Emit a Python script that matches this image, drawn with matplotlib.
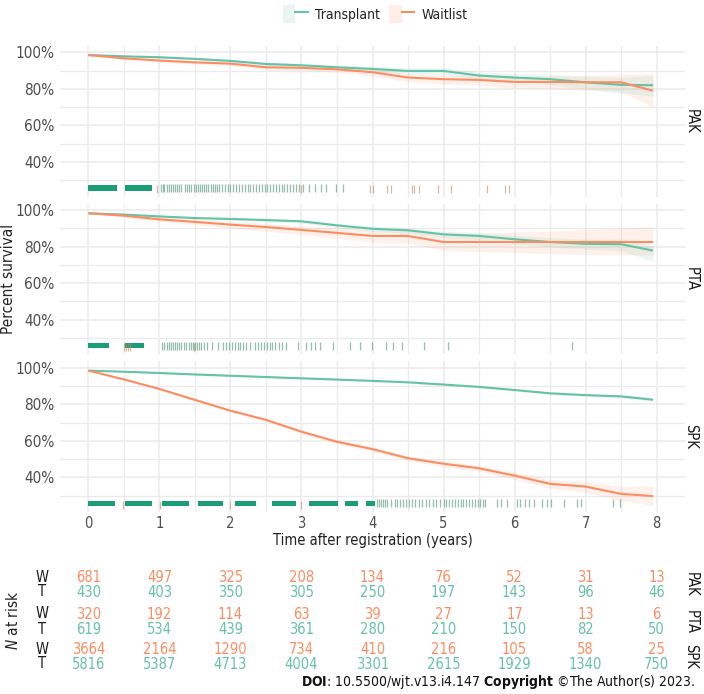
import matplotlib
matplotlib.use("Agg")
import matplotlib.pyplot as plt
from matplotlib.lines import Line2D
from matplotlib.patches import Patch
from matplotlib.legend_handler import HandlerTuple
import numpy as np

plt.rcParams['font.family'] = ['DejaVu Sans']
plt.rcParams['font.stretch'] = 'condensed'
plt.rcParams['mathtext.fontset'] = 'custom'
plt.rcParams['mathtext.rm'] = 'DejaVu Sans:stretch=condensed'
plt.rcParams['mathtext.it'] = 'DejaVu Sans:italic:stretch=condensed'
plt.rcParams['mathtext.bf'] = 'DejaVu Sans:bold:stretch=condensed'

# ---------------- data ----------------
groups = ["PAK", "PTA", "SPK"]
times = [0, 0.5, 1, 1.5, 2, 2.5, 3, 3.5, 4, 4.5, 5, 5.5, 6, 6.5, 7, 7.5, 7.95]

pak_transplant = [98.5, 97.8, 97.3, 96.4, 95.3, 93.6, 92.9, 91.8, 90.9, 89.8, 89.8, 87.3, 86.2, 85.3, 83.6, 82.2, 82.0]
pak_waitlist = [98.5, 96.7, 95.5, 94.5, 93.8, 91.8, 91.5, 90.7, 89.1, 86.2, 85.3, 84.9, 83.8, 83.8, 83.6, 83.6, 79.0]
pta_transplant = [98.2, 97.5, 96.5, 95.6, 95.1, 94.5, 93.8, 91.6, 89.7, 88.9, 86.7, 85.8, 84.0, 82.5, 81.5, 81.3, 77.8]
pta_waitlist = [98.2, 96.9, 94.9, 93.5, 92.0, 90.7, 89.1, 87.5, 85.8, 85.8, 82.5, 82.5, 82.5, 82.5, 82.5, 82.5, 82.5]
spk_transplant = [98.4, 97.8, 97.1, 96.3, 95.6, 94.9, 94.2, 93.5, 92.8, 92.0, 90.8, 89.5, 87.8, 86.0, 85.0, 84.3, 82.5]
spk_waitlist = [98.4, 93.6, 88.4, 82.4, 76.5, 71.5, 65.0, 59.5, 55.5, 50.5, 47.5, 45.0, 41.0, 36.5, 35.0, 31.0, 29.8]

# confidence band half widths (lower, upper)
pak_transplant_lo = [0.3, 0.5, 0.6, 0.7, 0.8, 1.0, 1.1, 1.3, 1.5, 1.7, 1.9, 2.2, 2.5, 3.0, 3.6, 4.5, 6.0]
pak_transplant_hi = [0.3, 0.5, 0.6, 0.7, 0.8, 1.0, 1.1, 1.3, 1.5, 1.6, 1.8, 2.0, 2.3, 2.7, 3.2, 4.0, 5.5]
pak_waitlist_lo = [0.3, 0.6, 0.8, 1.0, 1.1, 1.3, 1.5, 1.7, 2.0, 2.3, 2.6, 3.0, 3.4, 3.8, 4.3, 5.0, 9.0]
pak_waitlist_hi = [0.3, 0.6, 0.8, 0.9, 1.0, 1.2, 1.4, 1.6, 1.8, 2.1, 2.4, 2.7, 3.0, 3.4, 3.8, 4.4, 9.5]
pta_transplant_lo = [0.3, 0.5, 0.7, 0.8, 0.9, 1.0, 1.1, 1.3, 1.5, 1.7, 1.9, 2.1, 2.4, 2.7, 3.0, 3.5, 6.0]
pta_transplant_hi = [0.3, 0.5, 0.6, 0.7, 0.8, 0.9, 1.0, 1.2, 1.4, 1.6, 1.7, 1.9, 2.1, 2.4, 2.6, 2.9, 2.2]
pta_waitlist_lo = [0.3, 0.8, 1.2, 1.5, 1.9, 2.2, 2.6, 3.0, 3.5, 4.0, 4.6, 5.2, 5.8, 6.3, 6.8, 7.0, 7.1]
pta_waitlist_hi = [0.3, 0.8, 1.1, 1.4, 1.7, 2.0, 2.3, 2.7, 3.1, 3.6, 4.2, 4.8, 5.4, 6.0, 6.6, 7.8, 8.4]
spk_transplant_lo = [0.1, 0.2, 0.2, 0.3, 0.3, 0.3, 0.4, 0.4, 0.4, 0.5, 0.5, 0.6, 0.6, 0.7, 0.8, 0.9, 1.1]
spk_transplant_hi = [0.1, 0.2, 0.2, 0.3, 0.3, 0.3, 0.4, 0.4, 0.4, 0.5, 0.5, 0.6, 0.6, 0.7, 0.8, 0.9, 1.0]
spk_waitlist_lo = [0.1, 0.4, 0.6, 0.7, 0.8, 0.9, 1.0, 1.1, 1.2, 1.3, 1.5, 1.7, 2.0, 2.4, 3.0, 3.8, 5.0]
spk_waitlist_hi = [0.1, 0.4, 0.6, 0.7, 0.8, 0.9, 1.0, 1.1, 1.2, 1.3, 1.5, 1.7, 2.0, 2.4, 3.0, 4.0, 5.5]

# censoring rug: dense intervals and single ticks
pak_dense = [(0.0, 0.40), (0.51, 0.89)]
pak_ticks_t = [1.02, 1.05, 1.07, 1.10, 1.13, 1.16, 1.19, 1.22, 1.25, 1.28, 1.31, 1.36, 1.39, 1.42, 1.45, 1.48,
               1.51, 1.54, 1.57, 1.60, 1.63, 1.66, 1.69, 1.72, 1.75, 1.78, 1.81, 1.84, 1.88, 1.92, 1.96, 2.00,
               2.04, 2.08, 2.12, 2.16, 2.20, 2.24, 2.28, 2.32, 2.36, 2.40, 2.44, 2.48, 2.52, 2.56, 2.60, 2.64,
               2.68, 2.72, 2.76, 2.80, 2.84, 2.88, 2.92, 2.97, 3.02, 3.10, 3.19, 3.27, 3.35, 3.48, 3.58]
pak_ticks_w = [0.96, 2.99, 3.96, 4.01, 4.20, 4.26, 4.55, 4.59, 4.65, 4.92, 5.10, 5.61, 5.86, 5.92]
pta_dense = [(0.0, 0.29), (0.51, 0.78)]
pta_ticks_t = [1.04, 1.07, 1.10, 1.13, 1.16, 1.19, 1.22, 1.25, 1.28, 1.31, 1.35, 1.38, 1.41, 1.44, 1.47,
               1.50, 1.53, 1.56, 1.59, 1.63, 1.67, 1.74, 1.82, 1.90, 1.94, 1.98, 2.02, 2.06, 2.10, 2.14,
               2.18, 2.22, 2.27, 2.35, 2.39, 2.43, 2.47, 2.51, 2.55, 2.59, 2.63, 2.68, 2.73, 2.78, 2.95,
               3.07, 3.13, 3.19, 3.26, 3.45, 3.69, 3.83, 3.99, 4.19, 4.29, 4.41, 4.73, 5.07, 6.81]
pta_ticks_w = [0.50, 0.53, 0.56, 0.59, 1.48]
spk_dense = [(0.0, 0.37), (0.51, 0.89), (1.04, 1.41), (1.55, 1.90), (2.06, 2.36), (2.58, 2.92),
             (3.10, 3.51), (3.61, 3.80), (3.91, 4.03)]
spk_ticks_t = [4.06, 4.09, 4.12, 4.15, 4.18, 4.21, 4.26, 4.31, 4.35, 4.39, 4.43, 4.47, 4.51, 4.55, 4.60,
               4.65, 4.70, 4.75, 4.80, 4.85, 4.90, 4.95, 5.00, 5.04, 5.08, 5.12, 5.16, 5.20, 5.24, 5.28,
               5.32, 5.36, 5.40, 5.44, 5.48, 5.52, 5.56, 5.59, 5.75, 5.81, 5.89, 6.03, 6.08, 6.15, 6.21,
               6.27, 6.39, 6.45, 6.52, 6.70, 6.88, 6.93, 7.39, 7.49]
spk_ticks_w = [0.49, 1.01, 2.00, 2.99]

# number at risk
risk_times = [0, 1, 2, 3, 4, 5, 6, 7, 8]
pak_risk_w = [681, 497, 325, 208, 134, 76, 52, 31, 13]
pak_risk_t = [430, 403, 350, 305, 250, 197, 143, 96, 46]
pta_risk_w = [320, 192, 114, 63, 39, 27, 17, 13, 6]
pta_risk_t = [619, 534, 439, 361, 280, 210, 150, 82, 50]
spk_risk_w = [3664, 2164, 1290, 734, 410, 216, 105, 58, 25]
spk_risk_t = [5816, 5387, 4713, 4004, 3301, 2615, 1929, 1340, 750]

y_ticks = [40, 60, 80, 100]
y_tick_labels = ["40%", "60%", "80%", "100%"]
x_ticks = [0, 1, 2, 3, 4, 5, 6, 7, 8]

# ---------------- style ----------------
GREEN = "#66c2a5"
ORANGE = "#fc8d62"
RUG_GREEN = "#1b9e77"
RUG_TICK = "#5e9a82"
RUG_ORANGE = "#c08a62"
GRID = "#ebebeb"
TXT = "#4d4d4d"
FS = 10.5

W, H = 704, 694
fig = plt.figure(figsize=(W / 100, H / 100), dpi=100)

def fx(px):
    return px / W

def fy(py):
    return 1 - py / H

left_px, right_px = 60, 685
panels_px = [(45.9, 196.6), (203.6, 354.3), (361.3, 512.0)]

curves = {
    "PAK": (pak_transplant, pak_transplant_lo, pak_transplant_hi, pak_waitlist, pak_waitlist_lo, pak_waitlist_hi,
            pak_dense, pak_ticks_t, pak_ticks_w),
    "PTA": (pta_transplant, pta_transplant_lo, pta_transplant_hi, pta_waitlist, pta_waitlist_lo, pta_waitlist_hi,
            pta_dense, pta_ticks_t, pta_ticks_w),
    "SPK": (spk_transplant, spk_transplant_lo, spk_transplant_hi, spk_waitlist, spk_waitlist_lo, spk_waitlist_hi,
            spk_dense, spk_ticks_t, spk_ticks_w),
}

RUG_Y = 25.8
t = np.array(times)
for i, g in enumerate(groups):
    top, bot = panels_px[i]
    ax = fig.add_axes([fx(left_px), fy(bot), fx(right_px - left_px), (bot - top) / H])
    ax.set_xlim(-0.4, 8.4)
    ax.set_ylim(21.1, 103.5)
    for s in ax.spines.values():
        s.set_visible(False)
    ax.set_xticks(x_ticks)
    ax.set_xticks(np.arange(0.5, 8, 1.0), minor=True)
    ax.set_yticks(y_ticks)
    ax.set_yticks([30, 50, 70, 90], minor=True)
    ax.grid(True, which="major", color=GRID, lw=1.1)
    ax.grid(True, which="minor", color=GRID, lw=0.9)
    ax.set_axisbelow(True)
    ax.tick_params(which="both", length=0)
    ax.set_yticklabels(y_tick_labels, fontsize=11, color=TXT)
    if i < 2:
        ax.set_xticklabels([])
    else:
        ax.set_xticklabels([str(v) for v in x_ticks], fontsize=FS, color=TXT)
        ax.set_xlabel("Time after registration (years)", fontsize=10.5, color="#222222", labelpad=1)
    ax.tick_params(axis="y", pad=4)
    ax.tick_params(axis="x", pad=3)

    tr, trlo, trhi, wl, wllo, wlhi, dense, ticks_t, ticks_w = curves[g]
    tr = np.array(tr); wl = np.array(wl)
    ax.fill_between(t, wl - np.array(wllo), wl + np.array(wlhi), color=ORANGE, alpha=0.12, lw=0)
    ax.fill_between(t, tr - np.array(trlo), tr + np.array(trhi), color=GREEN, alpha=0.12, lw=0)
    ax.plot(t, tr, color=GREEN, lw=1.5, solid_capstyle="butt")
    ax.plot(t, wl, color=ORANGE, lw=1.5, solid_capstyle="butt")

    for (a, b) in dense:
        ax.broken_barh([(a, b - a)], (RUG_Y - 1.5, 3.0), facecolor=RUG_GREEN, edgecolor="none")
    ax.plot(ticks_t, [RUG_Y] * len(ticks_t), ls="none", marker="|", ms=6, mew=0.9,
            color=RUG_TICK, alpha=0.65)
    ax.plot(ticks_w, [RUG_Y - 0.6] * len(ticks_w), ls="none", marker="|", ms=6, mew=0.9,
            color=RUG_ORANGE, alpha=0.6)

    fig.text(fx(691), fy((top + bot) / 2), g, rotation=-90, ha="center", va="center",
             fontsize=FS, color="#1a1a1a")

fig.text(fx(9), fy((panels_px[0][0] + panels_px[2][1]) / 2), "Percent survival", rotation=90,
         ha="center", va="center", fontsize=11, color="#222222")

# legend
handles = [(Patch(facecolor=GREEN, alpha=0.15, edgecolor="none"), Line2D([], [], color=GREEN, lw=1.5)),
           (Patch(facecolor=ORANGE, alpha=0.15, edgecolor="none"), Line2D([], [], color=ORANGE, lw=1.5))]
fig.legend(handles, ["Transplant", "Waitlist"], handler_map={tuple: HandlerTuple(ndivide=None, pad=0)},
           loc="center", bbox_to_anchor=(fx(375), fy(14)), ncol=2, frameon=False, fontsize=10,
           handlelength=1.8, handleheight=1.7, handletextpad=0.5, columnspacing=0.7, labelcolor="#222222")

# risk table
rax = fig.add_axes([fx(left_px), 0, fx(right_px - left_px), fy(560)])
rax.set_xlim(-0.4, 8.4)
rax.set_ylim(H, 560)
rax.axis("off")
rows = [("PAK", pak_risk_w, pak_risk_t, 577, 592),
        ("PTA", pta_risk_w, pta_risk_t, 614, 629),
        ("SPK", spk_risk_w, spk_risk_t, 649, 664)]
for g, rw, rt, yw, yt in rows:
    for x, v in zip(risk_times, rw):
        rax.text(x, yw, str(v), ha="center", va="center", fontsize=FS, color=ORANGE)
    for x, v in zip(risk_times, rt):
        rax.text(x, yt, str(v), ha="center", va="center", fontsize=FS, color=GREEN)
    fig.text(fx(42), fy(yw), "W", ha="center", va="center", fontsize=FS, color="#1a1a1a")
    fig.text(fx(42), fy(yt), "T", ha="center", va="center", fontsize=FS, color="#1a1a1a")
    fig.text(fx(691), fy((yw + yt) / 2), g, rotation=-90, ha="center", va="center",
             fontsize=FS, color="#1a1a1a")

fig.text(fx(13), fy(620), r"$\mathit{N}$ at risk", rotation=90, ha="center", va="center",
         fontsize=11, color="#222222")

# footer
fig.text(fx(695), fy(682), r"$\mathbf{DOI}$: 10.5500/wjt.v13.i4.147 $\mathbf{Copyright}$ ©The Author(s) 2023.",
         ha="right", va="center", fontsize=10, color="#111111")

fig.savefig("out.png", dpi=100)
